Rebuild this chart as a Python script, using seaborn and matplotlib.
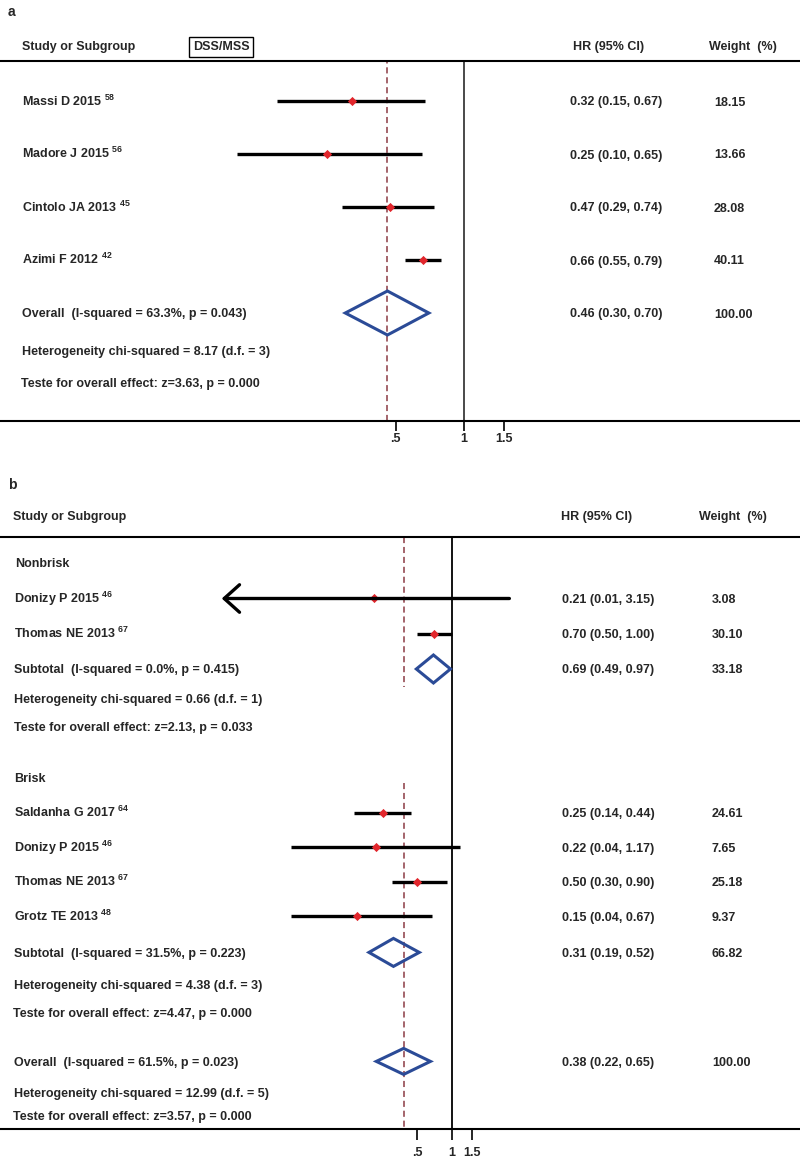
import numpy as np
import pandas as pd
import matplotlib
matplotlib.use('Agg')
import matplotlib.pyplot as plt
import seaborn as sns
from matplotlib.patches import Polygon
from matplotlib.ticker import NullLocator

# ---------------- panel a : DSS/MSS ----------------
a_study = ['Massi D 2015', 'Madore J 2015', 'Cintolo JA 2013', 'Azimi F 2012']
a_ref = ['58', '56', '45', '42']
a_hr = [0.32, 0.25, 0.47, 0.66]
a_lo = [0.15, 0.10, 0.29, 0.55]
a_hi = [0.67, 0.65, 0.74, 0.79]
a_wt = [18.15, 13.66, 28.08, 40.11]
a_pool = [0.46, 0.30, 0.70, 100.00]
a_pool_txt = 'Overall  (I-squared = 63.3%, p = 0.043)'
a_het_txt = 'Heterogeneity chi-squared = 8.17 (d.f. = 3)'
a_z_txt = 'Teste for overall effect: z=3.63, p = 0.000'

# ---------------- panel b : Nonbrisk / Brisk ----------------
nb_study = ['Donizy P 2015', 'Thomas NE 2013']
nb_ref = ['46', '67']
nb_hr = [0.21, 0.70]
nb_lo = [0.01, 0.50]
nb_hi = [3.15, 1.00]
nb_wt = [3.08, 30.10]
nb_clip = [True, False]
nb_pool = [0.69, 0.49, 0.97, 33.18]
nb_pool_txt = 'Subtotal  (I-squared = 0.0%, p = 0.415)'
nb_het_txt = 'Heterogeneity chi-squared = 0.66 (d.f. = 1)'
nb_z_txt = 'Teste for overall effect: z=2.13, p = 0.033'

br_study = ['Saldanha G 2017', 'Donizy P 2015', 'Thomas NE 2013', 'Grotz TE 2013']
br_ref = ['64', '46', '67', '48']
br_hr = [0.25, 0.22, 0.50, 0.15]
br_lo = [0.14, 0.04, 0.30, 0.04]
br_hi = [0.44, 1.17, 0.90, 0.67]
br_wt = [24.61, 7.65, 25.18, 9.37]
br_pool = [0.31, 0.19, 0.52, 66.82]
br_pool_txt = 'Subtotal  (I-squared = 31.5%, p = 0.223)'
br_het_txt = 'Heterogeneity chi-squared = 4.38 (d.f. = 3)'
br_z_txt = 'Teste for overall effect: z=4.47, p = 0.000'

b_pool = [0.38, 0.22, 0.65, 100.00]
b_pool_txt = 'Overall  (I-squared = 61.5%, p = 0.023)'
b_het_txt = 'Heterogeneity chi-squared = 12.99 (d.f. = 5)'
b_z_txt = 'Teste for overall effect: z=3.57, p = 0.000'

tick_vals = [0.5, 1, 1.5]
tick_labels = ['.5', '1', '1.5']

# colours
RED = '#e1262c'
BLUE = '#2b4b97'
DASH = '#8c3a44'
FS = 9

sns.set_theme(style='ticks')
plt.rcParams['font.family'] = ['Liberation Sans', 'DejaVu Sans']
plt.rcParams['mathtext.fontset'] = 'custom'
plt.rcParams['mathtext.bf'] = 'Liberation Sans:bold'
plt.rcParams['mathtext.rm'] = 'Liberation Sans'

W, H = 800, 1159
fig = plt.figure(figsize=(W / 100, H / 100), dpi=100)


def fx(px):
    return px / W


def fy(py):
    return 1 - py / H


def fig_txt(x, y, s, size=FS, **kw):
    fig.text(fx(x), fy(y), s, fontsize=size, fontweight='bold', va='center', **kw)


def make_axes(top, bottom):
    ax = fig.add_axes([0, fy(bottom), 1, (bottom - top) / H])
    ax.set_facecolor('none')
    return ax


def finish_axes(ax, top, bottom, x_one, px_per_ln, tick_len, pad):
    ax.set_xscale('log')
    ax.set_xlim(np.exp(-x_one / px_per_ln), np.exp((W - x_one) / px_per_ln))
    ax.set_ylim(bottom, top)
    ax.set_xlabel('')
    ax.set_ylabel('')
    ax.set_yticks([])
    ax.set_xticks(tick_vals)
    ax.set_xticklabels(tick_labels, fontweight='bold', fontsize=FS)
    ax.xaxis.set_minor_locator(NullLocator())
    ax.tick_params(axis='x', length=tick_len, width=1.2, color='black',
                   pad=pad, direction='out')
    for side in ['left', 'right']:
        ax.spines[side].set_visible(False)
    for side in ['top', 'bottom']:
        ax.spines[side].set_linewidth(1.5)
        ax.spines[side].set_color('black')


def row_txt(ax, x, y, s):
    # baseline placed a bit under the row centre (y axis in pixels, inverted)
    ax.text(fx(x), y + 4.5, s, transform=ax.get_yaxis_transform(),
            ha='left', va='baseline', fontsize=FS, fontweight='bold')


def draw_studies(ax, ys, names, refs, hr, lo, hi, wt, clip, cols):
    # points first, while the x axis is still linear
    pts = pd.DataFrame({'hr': hr, 'y': ys})
    sns.scatterplot(data=pts, x='hr', y='y', ax=ax, marker='D', s=22,
                    color=RED, linewidth=0, legend=False, zorder=3)
    for y, l, h, c in zip(ys, lo, hi, clip):
        if c:
            ax.annotate('', xy=(l, y), xytext=(h, y),
                        arrowprops=dict(arrowstyle='->,head_length=0.5,head_width=0.45',
                                        lw=2.4, color='black', mutation_scale=22,
                                        shrinkA=0, shrinkB=0))
        else:
            ax.hlines(y, l, h, color='black', lw=2.4, zorder=2)
    for y, n, r, e, l, h, w in zip(ys, names, refs, hr, lo, hi, wt):
        row_txt(ax, cols[0], y, n + r' $^{\mathbf{' + r + '}}$')
        row_txt(ax, cols[1], y, f'{e:.2f} ({l:.2f}, {h:.2f})')
        row_txt(ax, cols[2], y, f'{w:.2f}')


def draw_pool(ax, y, pool, half, txt, cols):
    est, lo, hi, w = pool
    ax.add_patch(Polygon([[lo, y], [est, y - half], [hi, y], [est, y + half]],
                         closed=True, fill=False, edgecolor=BLUE, lw=2.2,
                         joinstyle='miter', zorder=3))
    row_txt(ax, cols[0], y, txt)
    row_txt(ax, cols[1], y, f'{est:.2f} ({lo:.2f}, {hi:.2f})')
    row_txt(ax, cols[2], y, f'{w:.2f}')


# ================= panel a =================
A_TOP, A_BOT, A_ONE, A_K = 61, 421, 464, 98.6
a_cols = [22, 570, 714]
ax_a = make_axes(A_TOP, A_BOT)
a_rows = 101 + 53 * np.arange(len(a_study))
a_pool_y = a_rows[-1] + 53
draw_studies(ax_a, a_rows, a_study, a_ref, a_hr, a_lo, a_hi, a_wt,
             [False] * len(a_study), a_cols)
draw_pool(ax_a, a_pool_y, a_pool, 22, a_pool_txt, a_cols)
row_txt(ax_a, a_cols[0], a_pool_y + 38, a_het_txt)
row_txt(ax_a, a_cols[0] - 1, a_pool_y + 69, a_z_txt)
ax_a.axvline(1, color='#3a3a3a', lw=1.3, zorder=1)
ax_a.axvline(a_pool[0], color=DASH, lw=1.1, ls=(0, (4, 2.5)), zorder=1)
finish_axes(ax_a, A_TOP, A_BOT, A_ONE, A_K, 7, 2)

fig_txt(8, 12, 'a', size=10)
fig_txt(22, 47, 'Study or Subgroup')
fig_txt(221, 47, 'DSS/MSS', ha='center',
        bbox=dict(boxstyle='square,pad=0.3', fc='none', ec='black', lw=1))
fig_txt(573, 47, 'HR (95% CI)')
fig_txt(709, 47, 'Weight  (%)')

# ================= panel b =================
B_TOP, B_BOT, B_ONE, B_K = 537, 1129, 452, 50.0
b_cols = [14, 562, 712]
ax_b = make_axes(B_TOP, B_BOT)

# Nonbrisk subgroup
nb_head_y = 563
nb_rows = nb_head_y + 35.5 * (1 + np.arange(len(nb_study)))
nb_pool_y = nb_rows[-1] + 35
row_txt(ax_b, b_cols[0] + 1, nb_head_y, 'Nonbrisk')
draw_studies(ax_b, nb_rows, nb_study, nb_ref, nb_hr, nb_lo, nb_hi, nb_wt,
             nb_clip, b_cols)
draw_pool(ax_b, nb_pool_y, nb_pool, 14, nb_pool_txt, b_cols)
row_txt(ax_b, b_cols[0], nb_pool_y + 30, nb_het_txt)
row_txt(ax_b, b_cols[0], nb_pool_y + 58, nb_z_txt)

# Brisk subgroup
br_head_y = 778
br_rows = br_head_y + 34.6 * (1 + np.arange(len(br_study)))
br_pool_y = br_rows[-1] + 36
row_txt(ax_b, b_cols[0], br_head_y, 'Brisk')
draw_studies(ax_b, br_rows, br_study, br_ref, br_hr, br_lo, br_hi, br_wt,
             [False] * len(br_study), b_cols)
draw_pool(ax_b, br_pool_y, br_pool, 14, br_pool_txt, b_cols)
row_txt(ax_b, b_cols[0], br_pool_y + 32, br_het_txt)
row_txt(ax_b, b_cols[0] - 1, br_pool_y + 60, br_z_txt)

# overall
b_pool_y = br_pool_y + 109
draw_pool(ax_b, b_pool_y, b_pool, 13, b_pool_txt, b_cols)
row_txt(ax_b, b_cols[0], b_pool_y + 31, b_het_txt)
row_txt(ax_b, b_cols[0] - 1, b_pool_y + 54, b_z_txt)

ax_b.axvline(1, color='black', lw=1.3, zorder=1)
ax_b.vlines(b_pool[0], B_TOP, nb_pool_y + 18, color=DASH, lw=1.1,
            ls=(0, (4, 2.5)), zorder=1)
ax_b.vlines(b_pool[0], br_head_y + 5, B_BOT, color=DASH, lw=1.1,
            ls=(0, (4, 2.5)), zorder=1)
finish_axes(ax_b, B_TOP, B_BOT, B_ONE, B_K, 8, 5)

fig_txt(8, 485, 'b', size=10)
fig_txt(13, 517, 'Study or Subgroup')
fig_txt(561, 517, 'HR (95% CI)')
fig_txt(699, 517, 'Weight  (%)')

fig.savefig('out.png', dpi=100, facecolor='white')
